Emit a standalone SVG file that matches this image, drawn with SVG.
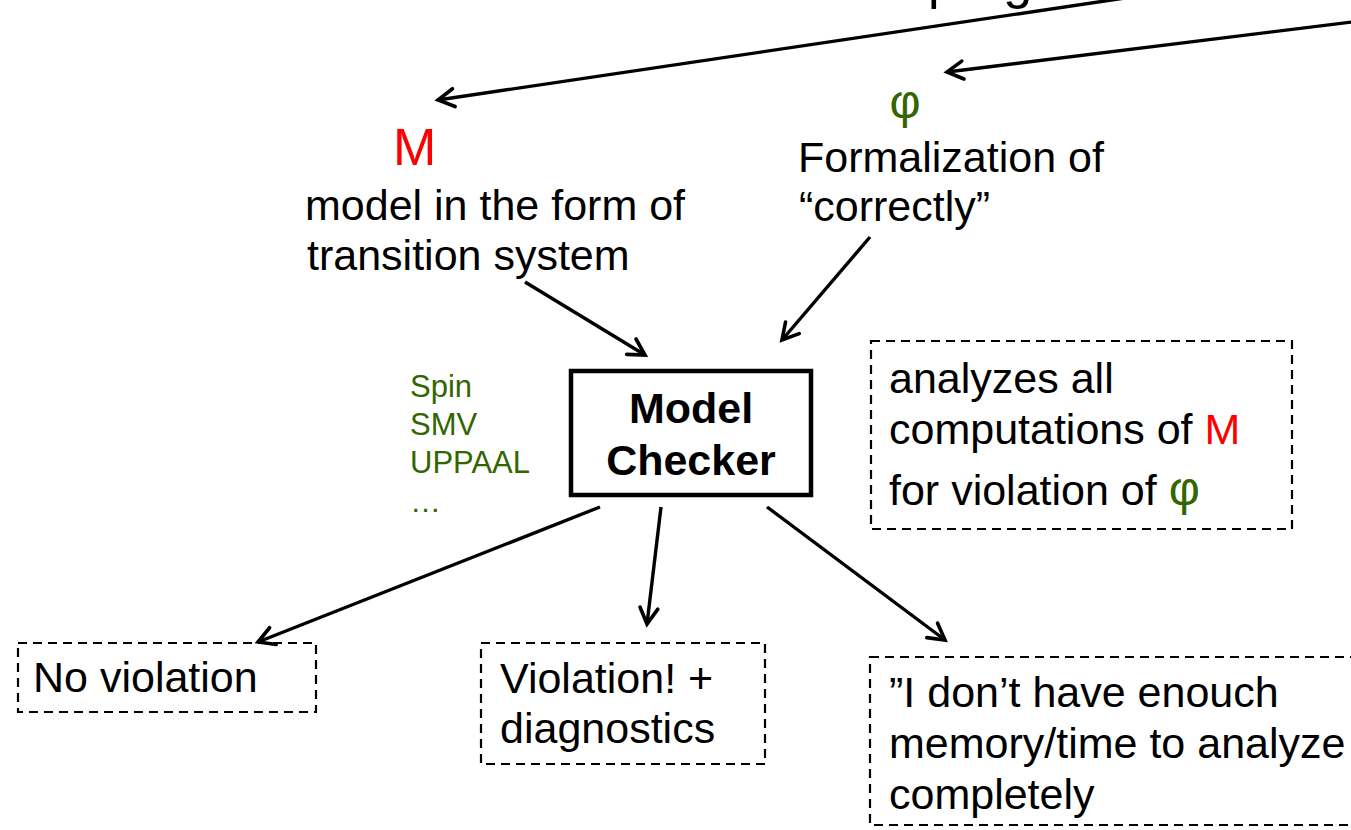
<svg xmlns="http://www.w3.org/2000/svg" width="1351" height="830" viewBox="0 0 1351 830">
  <style>
    text { font-family: "Liberation Sans", Arial, sans-serif; fill: #000; }
    .t42 { font-size: 43px; }
    .bold { font-weight: bold; }
    .red { fill: #ff0000; }
    .green { fill: #336600; }
    .tool { font-size: 31px; fill: #336600; }
    .dash { fill: none; stroke: #000; stroke-width: 2.2; stroke-dasharray: 9 6; }
    .box { fill: none; stroke: #000; stroke-width: 4.5; }
    .conn line { stroke: #000; stroke-width: 3.4; marker-end: url(#arrow); }
  </style>
  <defs>
    <marker id="arrow" markerUnits="userSpaceOnUse" markerWidth="30" markerHeight="30" refX="0" refY="0" viewBox="-20 -15 30 30" orient="auto" overflow="visible">
      <path d="M-16,-9 L0,0 L-16,9" fill="none" stroke="#000" stroke-width="3.6" stroke-linecap="round" stroke-linejoin="miter"/>
    </marker>
  </defs>
  <rect width="1351" height="830" fill="#fff"/>

  <!-- heading line running off the top edge -->
  <text id="heading" x="928" y="-2" style="font-size:52px">program</text>

  <!-- connectors -->
  <g id="connectors" class="conn">
    <line x1="1125" y1="-2" x2="438" y2="100"/>
    <line x1="1360" y1="21" x2="947" y2="72"/>
    <line x1="525" y1="282" x2="645" y2="355"/>
    <line x1="870" y1="237" x2="782" y2="340"/>
    <line x1="600" y1="507" x2="258" y2="642"/>
    <line x1="661" y1="507" x2="647" y2="624"/>
    <line x1="767" y1="507" x2="945" y2="640"/>
  </g>

  <!-- the model M -->
  <g id="model">
    <text x="393" y="165" class="red" style="font-size:52px">M</text>
    <text x="305" y="220" class="t42">model in the form of</text>
    <text x="307" y="270" class="t42">transition system</text>
  </g>

  <!-- the property phi -->
  <g id="property">
    <text x="905" y="118" class="green" text-anchor="middle" style="font-size:48px">φ</text>
    <text x="798" y="172" class="t42">Formalization of</text>
    <text x="799" y="221" class="t42">“correctly”</text>
  </g>

  <!-- model checker -->
  <g id="checker">
    <rect x="571" y="371" width="240" height="124" class="box"/>
    <text x="691" y="423" class="t42 bold" text-anchor="middle">Model</text>
    <text x="691" y="475" class="t42 bold" text-anchor="middle">Checker</text>
  </g>

  <!-- tool names -->
  <g id="tools">
    <text x="410" y="397" class="tool">Spin</text>
    <text x="410" y="435" class="tool">SMV</text>
    <text x="410" y="473" class="tool">UPPAAL</text>
    <text x="410" y="512" class="tool">…</text>
  </g>

  <!-- explanation -->
  <g id="note">
    <rect x="871" y="341" width="421" height="188" class="dash"/>
    <text x="889" y="393" class="t42">analyzes all</text>
    <text x="889" y="444" class="t42">computations of <tspan class="red">M</tspan></text>
    <text x="889" y="505" class="t42">for violation of <tspan class="green" style="font-size:48px">φ</tspan></text>
  </g>

  <!-- outcomes -->
  <g id="no-violation">
    <rect x="18" y="643" width="298" height="69" class="dash"/>
    <text x="33" y="692" class="t42">No violation</text>
  </g>

  <g id="violation">
    <rect x="481" y="643" width="284" height="121" class="dash"/>
    <text x="500" y="693" class="t42">Violation! +</text>
    <text x="500" y="743" class="t42">diagnostics</text>
  </g>

  <g id="out-of-resources">
    <rect x="870" y="657" width="500" height="168" class="dash"/>
    <text x="889" y="707" class="t42">”I don’t have enouch</text>
    <text x="889" y="758" class="t42">memory/time to analyze</text>
    <text x="889" y="809" class="t42">completely</text>
  </g>
</svg>
